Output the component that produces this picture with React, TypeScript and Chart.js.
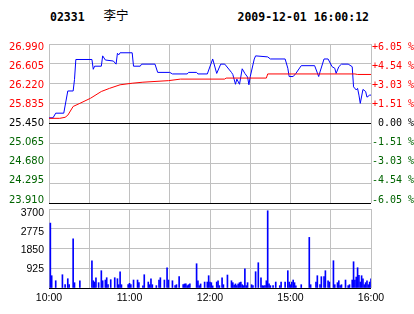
import React, { useEffect, useRef } from 'react';
import { Chart, registerables } from 'chart.js';

Chart.register(...registerables);

const stockCode = '02331';
const stockName = '李宁';
const timestamp = '2009-12-01 16:00:12';

const prevClose = 25.45;
const priceTicks = [23.91, 24.295, 24.68, 25.065, 25.45, 25.835, 26.22, 26.605, 26.99];
const timeTickMinutes = [0, 60, 120, 180, 240];
const timeTickLabels = ['10:00', '11:00', '12:00', '15:00', '16:00'];
const volumeTicks = [0, 925, 1850, 2775, 3700];

const priceMinutes = [
  0, 3, 5, 11, 14, 18, 19, 20, 32, 33, 34, 39, 40, 42, 48, 50, 51, 52, 53, 62,
  63, 68, 69, 79, 81, 90, 92, 103, 104, 110, 111, 118, 122, 125, 128, 131, 136, 137, 139, 140,
  142, 144, 146, 148, 149, 150, 153, 154, 163, 165, 176, 178, 179, 182, 184, 188, 198, 201, 202, 205,
  208, 211, 213, 214, 216, 218, 223, 226, 227, 229, 230, 231, 232, 234, 236, 237, 239, 240,
];
const priceValues = [
  25.56, 25.56, 25.65, 25.65, 26.08, 26.08, 26.3, 26.69, 26.69, 26.5, 26.56, 26.56, 26.76, 26.68, 26.66, 26.6, 26.81, 26.78, 26.82, 26.82,
  26.56, 26.56, 26.6, 26.6, 26.44, 26.44, 26.41, 26.41, 26.44, 26.44, 26.41, 26.41, 26.7, 26.42, 26.6, 26.6, 26.44, 26.4, 26.21, 26.31,
  26.21, 26.51, 26.42, 26.35, 26.2, 26.36, 26.7, 26.76, 26.74, 26.7, 26.7, 26.52, 26.36, 26.36, 26.42, 26.57, 26.57, 26.36, 26.45, 26.7,
  26.7, 26.55, 26.52, 26.42, 26.55, 26.6, 26.6, 26.55, 26.16, 26.1, 26.13, 26.0, 25.84, 26.11, 26.07, 25.96, 26.0, 26.0,
];

const avgMinutes = [0, 8, 12, 14, 18, 23, 31, 39, 45, 53, 62, 70, 89, 98, 131, 132, 162, 163, 228, 230, 240];
const avgValues = [25.55, 25.55, 25.57, 25.61, 25.78, 25.84, 25.94, 26.07, 26.13, 26.2, 26.23, 26.25, 26.28, 26.31, 26.31, 26.33, 26.33, 26.41, 26.41, 26.4, 26.4];

const volumeMinutes = [
  1, 2, 5, 10, 12, 14, 15, 18, 19, 23, 32, 33, 34, 35, 37, 39, 40, 42, 43, 44,
  46, 49, 51, 52, 53, 54, 59, 60, 61, 63, 66, 67, 70, 71, 74, 75, 76, 77, 80, 82,
  83, 86, 88, 89, 92, 94, 95, 97, 100, 101, 102, 103, 104, 105, 110, 111, 112, 113, 116, 118,
  119, 120, 121, 122, 125, 126, 127, 129, 130, 133, 136, 137, 138, 139, 140, 141, 142, 143, 144, 145,
  146, 147, 148, 151, 152, 154, 156, 158, 159, 160, 161, 162, 163, 164, 165, 167, 169, 172, 173, 176,
  178, 179, 180, 181, 182, 183, 184, 188, 194, 195, 199, 200, 202, 203, 205, 206, 208, 209, 212, 213,
  215, 216, 217, 218, 221, 223, 224, 226, 227, 228, 229, 230, 231, 232, 233, 234, 235, 236, 237, 238,
  239, 240,
];
const volumeValues = [
  3040, 576, 340, 622, 155, 435, 155, 2307, 248, 340, 1278, 340, 280, 482, 250, 810, 340, 374, 482, 155,
  390, 482, 435, 155, 763, 155, 155, 220, 155, 374, 374, 250, 100, 622, 280, 155, 435, 155, 110, 374,
  482, 374, 950, 374, 340, 110, 155, 530, 155, 190, 190, 110, 155, 190, 1137, 340, 110, 190, 280, 280,
  576, 280, 250, 100, 280, 340, 110, 482, 155, 608, 340, 250, 140, 190, 110, 190, 250, 280, 155, 110,
  903, 110, 250, 155, 110, 763, 1184, 482, 110, 100, 110, 340, 3617, 190, 110, 110, 280, 110, 280, 280,
  810, 280, 155, 280, 374, 250, 100, 155, 2370, 155, 280, 576, 155, 530, 530, 810, 340, 280, 1278, 155,
  250, 340, 110, 155, 374, 110, 155, 374, 1230, 374, 513, 950, 590, 280, 576, 435, 155, 250, 340, 155,
  280, 435,
];

const RED = '#ff0000';
const GREEN = '#006400';
const GRID = '#c0c0c0';

const near = (a: number, b: number) => Math.abs(a - b) < 1e-6;
const levelColor = (v: number) => (near(v, prevClose) ? '#000000' : v > prevClose ? RED : GREEN);

// Shift y-axis tick labels slightly inward (top labels down, bottom labels up), like the original.
const makeLabelNudge = (axisIds: string[], topShift: number, bottomShift: number) => ({
  id: 'labelNudge',
  beforeDraw(chart: any) {
    const area = chart.chartArea;
    axisIds.forEach((id) => {
      const scale = chart.scales[id];
      if (!scale) return;
      const items = scale.getLabelItems(area);
      items.forEach((it: any) => {
        if (it._nudged) return;
        it._nudged = true;
        const [tx, ty] = it.options.translation;
        const f = (ty - area.top) / (area.bottom - area.top);
        it.options.translation = [tx, ty + topShift + (bottomShift - topShift) * f];
      });
    });
  },
});

export default function App() {
  const priceRef = useRef<HTMLCanvasElement | null>(null);
  const volRef = useRef<HTMLCanvasElement | null>(null);

  useEffect(() => {
    const priceMin = priceTicks[0];
    const priceMax = priceTicks[priceTicks.length - 1];
    const priceChart = new Chart(priceRef.current as HTMLCanvasElement, {
      type: 'line',
      data: {
        datasets: [
          {
            label: 'avg',
            data: avgMinutes.map((m, i) => ({ x: m, y: avgValues[i] })),
            borderColor: RED,
            borderWidth: 1,
            pointRadius: 0,
            tension: 0,
            order: 0,
            yAxisID: 'y',
          },
          {
            label: 'price',
            data: priceMinutes.map((m, i) => ({ x: m, y: priceValues[i] })),
            borderColor: '#0000ff',
            borderWidth: 1,
            pointRadius: 0,
            tension: 0,
            order: 1,
            yAxisID: 'y',
          },
        ],
      },
      plugins: [makeLabelNudge(['y', 'y1'], 3, -3)],
      options: {
        animation: false,
        responsive: false,
        maintainAspectRatio: false,
        layout: { padding: { top: 14, bottom: 12, left: 0, right: 0 } },
        plugins: { legend: { display: false }, tooltip: { enabled: false } },
        scales: {
          x: {
            type: 'linear',
            min: 0,
            max: 240,
            ticks: { display: false, stepSize: 30 },
            grid: { color: GRID, drawTicks: false },
            border: { display: false },
          },
          y: {
            position: 'left',
            min: priceMin,
            max: priceMax,
            afterBuildTicks: (s: any) => {
              s.ticks = priceTicks.map((v) => ({ value: v }));
            },
            afterFit: (s: any) => {
              s.width = 49;
            },
            ticks: {
              autoSkip: false,
              padding: 5,
              font: { family: 'DejaVu Sans', size: 10 },
              color: (ctx: any) => levelColor(ctx.tick.value),
              callback: (v: any) => Number(v).toFixed(3),
            },
            grid: {
              drawTicks: false,
              color: (ctx: any) =>
                ctx.tick && (near(ctx.tick.value, prevClose) || near(ctx.tick.value, priceMin)) ? '#000000' : GRID,
            },
            border: { display: false },
          },
          y1: {
            position: 'right',
            min: priceMin,
            max: priceMax,
            afterBuildTicks: (s: any) => {
              s.ticks = priceTicks.map((v) => ({ value: v }));
            },
            afterFit: (s: any) => {
              s.width = 43;
            },
            ticks: {
              autoSkip: false,
              padding: 1,
              font: { family: 'DejaVu Sans Mono', size: 10 },
              color: (ctx: any) => levelColor(ctx.tick.value),
              callback: (v: any) => {
                const pct = ((Number(v) - prevClose) / prevClose) * 100;
                const s = Math.abs(pct) < 0.005 ? ' 0.00' : (pct > 0 ? '+' : '-') + Math.abs(pct).toFixed(2);
                return s + ' %';
              },
            },
            grid: { display: false, drawTicks: false },
            border: { display: false },
          },
        },
      },
    });

    const volChart = new Chart(volRef.current as HTMLCanvasElement, {
      type: 'bar',
      data: {
        datasets: [
          {
            label: 'volume',
            data: volumeMinutes.map((m, i) => ({ x: m, y: volumeValues[i] })) as any,
            backgroundColor: '#0000ff',
            borderWidth: 0,
            barThickness: 1,
          },
        ],
      },
      plugins: [makeLabelNudge(['y'], 4, 0)],
      options: {
        animation: false,
        responsive: false,
        maintainAspectRatio: false,
        layout: { padding: { top: 13, bottom: 0, left: 0, right: 43 } },
        plugins: { legend: { display: false }, tooltip: { enabled: false } },
        scales: {
          x: {
            type: 'linear',
            min: 0,
            max: 240,
            offset: false,
            afterFit: (s: any) => {
              s.height = 26;
            },
            ticks: {
              stepSize: 30,
              autoSkip: false,
              maxRotation: 0,
              padding: 4,
              color: '#000000',
              font: { family: 'Liberation Sans', size: 10.5 },
              callback: (v: any) => {
                const idx = timeTickMinutes.indexOf(Number(v));
                return idx >= 0 ? timeTickLabels[idx] : '';
              },
            },
            grid: { color: GRID, drawTicks: false, offset: false },
            border: { display: false },
          },
          y: {
            min: 0,
            max: volumeTicks[volumeTicks.length - 1],
            afterBuildTicks: (s: any) => {
              s.ticks = volumeTicks.map((v) => ({ value: v }));
            },
            afterFit: (s: any) => {
              s.width = 49;
            },
            ticks: {
              autoSkip: false,
              padding: 5,
              color: '#000000',
              font: { family: 'Liberation Sans', size: 10.5 },
              callback: (v: any) => (Number(v) === 0 ? '' : String(v)),
            },
            grid: {
              drawTicks: false,
              color: (ctx: any) => (ctx.tick && ctx.tick.value === 0 ? '#000000' : GRID),
            },
            border: { display: false },
          },
        },
      },
    });

    return () => {
      priceChart.destroy();
      volChart.destroy();
    };
  }, []);

  const headFont: React.CSSProperties = {
    position: 'absolute',
    fontFamily: '"DejaVu Sans Mono", monospace',
    fontWeight: 'bold',
    fontSize: '11.5px',
    lineHeight: '12px',
    color: '#000',
    whiteSpace: 'pre',
  };

  return (
    <div style={{ position: 'fixed', left: 0, top: 0, width: 414, height: 314, background: '#fff', overflow: 'hidden' }}>
      <div style={{ ...headFont, left: 50, top: 11 }}>{stockCode}</div>
      <div
        style={{
          position: 'absolute',
          left: 103.5,
          top: 9,
          fontFamily: '"Noto Sans CJK SC", sans-serif',
          fontSize: '12.5px',
          lineHeight: '12.5px',
          color: '#000',
          whiteSpace: 'pre',
        }}
      >
        {stockName}
      </div>
      <div style={{ ...headFont, left: 237.5, top: 11 }}>{timestamp}</div>
      <canvas
        ref={priceRef}
        width={414}
        height={185}
        style={{ position: 'absolute', left: 0, top: 30, width: 414, height: 185 }}
      />
      <canvas
        ref={volRef}
        width={414}
        height={118}
        style={{ position: 'absolute', left: 0, top: 196, width: 414, height: 118 }}
      />
    </div>
  );
}
